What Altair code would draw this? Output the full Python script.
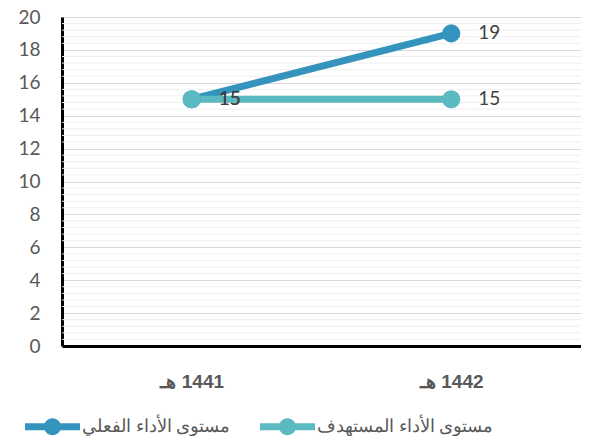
import altair as alt
import pandas as pd

years = ["هـ\u200e 1441", "هـ\u200e 1442"]
actual = [15, 19]
target = [15, 15]
series = ["مستوى الأداء الفعلي", "مستوى الأداء المستهدف"]
colors = ["#3594BD", "#5BB9C1"]
major_ticks = list(range(0, 21, 2))
minor_grid = [round(i * 0.4, 1) for i in range(51) if i % 5 != 0]

rows = []
for name, vals in zip(series, [actual, target]):
    for y, v in zip(years, vals):
        rows.append({"year": y, "value": v, "series": name})
df = pd.DataFrame(rows)
grid_df = pd.DataFrame({"value": minor_grid})

legend_path = ("M-1,-0.13L1,-0.13L1,0.13L-1,0.13Z "
               "M-0.31,0A0.31,0.31,0,1,1,0.31,0A0.31,0.31,0,1,1,-0.31,0Z")

x_scale = alt.Scale(type="point", padding=0.5)
y_scale = alt.Scale(domain=[0, 20], nice=False)
y_axis = alt.Axis(values=major_ticks, title=None, labelFont="Lato",
                  labelFontSize=19, labelColor="#595959", labelPadding=22,
                  ticks=False, domainColor="#000000", domainWidth=3,
                  grid=True, gridColor="#D9D9D9", gridWidth=1)

x_enc = alt.X("year:N", sort=years, scale=x_scale,
              axis=alt.Axis(title=None, labelAngle=0, labelFont="Liberation Sans",
                            labelFontWeight="bold", labelFontSize=19, labelColor="#595959",
                            labelPadding=26, ticks=False, domainColor="#000000",
                            domainWidth=3, grid=False))
y_enc = alt.Y("value:Q", scale=y_scale, axis=y_axis)
color_enc = alt.Color("series:N", scale=alt.Scale(domain=series, range=colors),
                      legend=alt.Legend(title=None, orient="none", direction="horizontal",
                                        legendX=-37, legendY=382, symbolType=legend_path,
                                        symbolSize=3025, symbolStrokeWidth=0,
                                        labelFont="Liberation Serif", labelFontSize=18,
                                        labelColor="#595959", labelOffset=2, labelLimit=400,
                                        columnPadding=30))

minor = alt.Chart(grid_df).mark_rule(color="#EFEFEF", strokeWidth=1).encode(
    y=alt.Y("value:Q", scale=y_scale, axis=y_axis)
)

base = alt.Chart(df).encode(x=x_enc, y=y_enc, color=color_enc)
lines = base.mark_line(strokeWidth=7)
points = base.mark_circle(size=330, opacity=1)
labels = alt.Chart(df).mark_text(align="left", baseline="middle", dx=27, fontSize=19,
                                 font="Lato", color="#404040").encode(
    x=alt.X("year:N", sort=years, scale=x_scale),
    y=alt.Y("value:Q", scale=y_scale, axis=y_axis),
    text="value:Q")

chart = alt.layer(minor, lines, points, labels).properties(
    width=519, height=329,
    autosize=alt.AutoSizeParams(type="none"),
    padding={"left": 54, "top": 9, "right": 0, "bottom": 90},
).configure_view(stroke=None).configure(background="white")

chart.save("out.html", embed_options={"renderer": "svg", "actions": False})
